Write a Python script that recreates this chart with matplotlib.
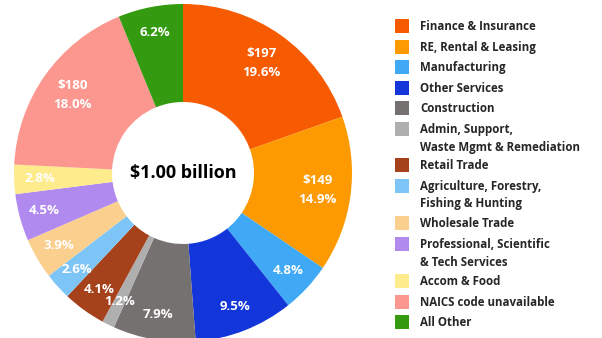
import matplotlib
matplotlib.use("Agg")
import matplotlib.pyplot as plt
from matplotlib.patches import Rectangle
import numpy as np

plt.rcParams["font.family"] = ["Open Sans", "DejaVu Sans"]

industries = [
    "Finance & Insurance",
    "RE, Rental & Leasing",
    "Manufacturing",
    "Other Services",
    "Construction",
    "Admin, Support,\nWaste Mgmt & Remediation",
    "Retail Trade",
    "Agriculture, Forestry,\nFishing & Hunting",
    "Wholesale Trade",
    "Professional, Scientific\n& Tech Services",
    "Accom & Food",
    "NAICS code unavailable",
    "All Other",
]
shares = [19.6, 14.9, 4.8, 9.5, 7.9, 1.2, 4.1, 2.6, 3.9, 4.5, 2.8, 18.0, 6.2]
dollars = ["$197", "$149", None, None, None, None, None, None, None, None, None, "$180", None]
colors = ["#F75B02", "#FD9A02", "#3FA9F5", "#1236DA", "#767171", "#AFAFAF",
          "#A5421C", "#7EC5F7", "#FBCF8E", "#B18AF0", "#FEEB8C", "#FC978F", "#349A0F"]
total_label = "$1.00 billion"

W, H = 602, 338
fig = plt.figure(figsize=(W / 100, H / 100), dpi=100)
ax = fig.add_axes([0, 0, 1, 1])

cx, cy, r_out, r_in = 183, 165, 169, 71
wedges, _ = ax.pie(shares, colors=colors, startangle=90, counterclock=False,
                   radius=r_out, center=(cx, cy),
                   wedgeprops=dict(width=r_out - r_in, linewidth=0))
ax.set_xlim(0, W)
ax.set_ylim(0, H)
ax.set_aspect("equal")
ax.axis("off")

for w, s, d in zip(wedges, shares, dollars):
    ang = np.deg2rad((w.theta1 + w.theta2) / 2)
    rl = (0.85 if d is None else 0.80) * r_out
    x, y = cx + rl * np.cos(ang), cy + rl * np.sin(ang)
    txt = f"{s:.1f}%" if d is None else f"{d}\n{s:.1f}%"
    ax.text(x, y, txt, ha="center", va="center", color="white",
            fontsize=9.5, fontweight="bold", linespacing=1.6)

ax.text(cx, cy, total_label, ha="center", va="center", color="black",
        fontsize=13, fontweight="bold")

# legend drawn by hand: swatch plus one or two lines of text per row
row_y = [26, 47, 67, 88, 108, 129, 165, 186, 223, 244, 281, 302, 322]
for name, c, yy in zip(industries, colors, row_y):
    y = H - yy
    ax.add_patch(Rectangle((395, y - 7), 14, 14, facecolor=c, edgecolor="none"))
    ax.text(420, y + 6, name, ha="left", va="top", fontsize=8.3,
            fontweight="bold", color="#262626", linespacing=1.45)

fig.savefig("out.png", dpi=100)
